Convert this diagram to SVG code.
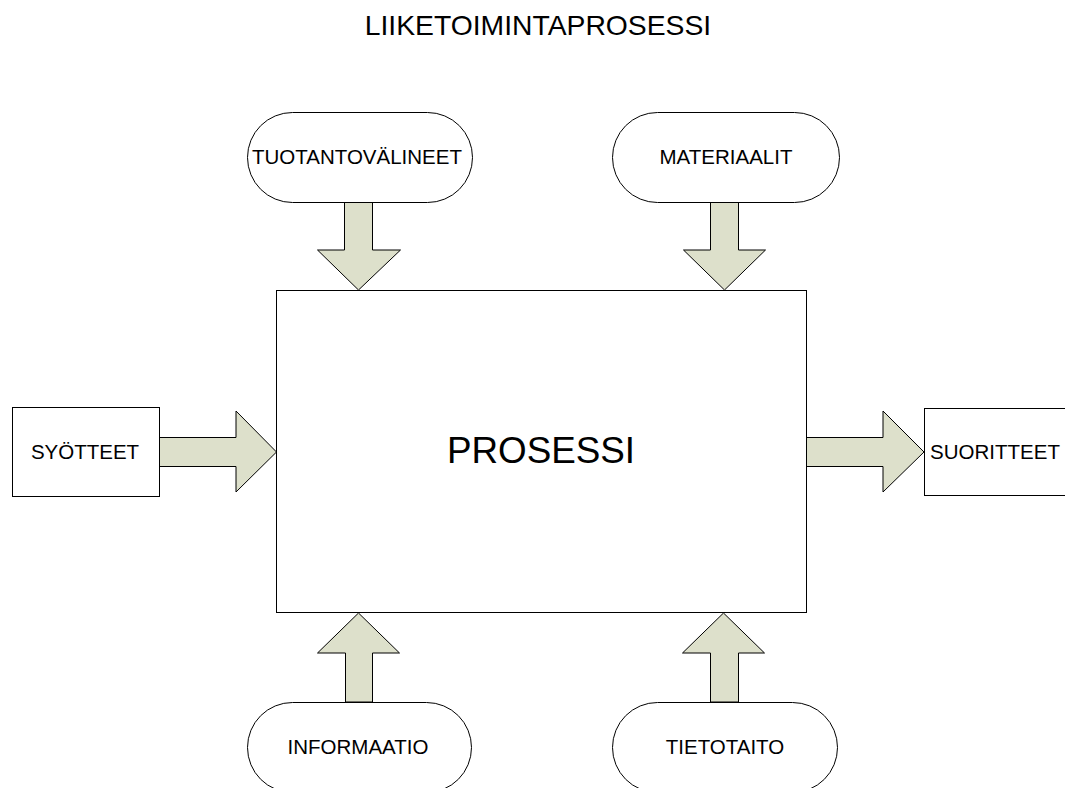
<svg xmlns="http://www.w3.org/2000/svg" width="1065" height="788" viewBox="0 0 1065 788">
<style>
.box{fill:#fff;stroke:#000;stroke-width:1}
.arr{fill:#dde0cb;stroke:#000;stroke-width:1;stroke-linejoin:miter}
text{font-family:"Liberation Sans",Arial,sans-serif;fill:#000;text-anchor:middle}
.lbl{font-size:20.5px}
</style>
<rect width="1065" height="788" fill="#fff"/>
<text id="title" x="538" y="35" style="font-size:28.3px">LIIKETOIMINTAPROSESSI</text>
<g id="connectors">
<polygon class="arr" points="344.5,202 372.5,202 372.5,250 400.5,250 358.5,290 317.5,250 344.5,250"/>
<polygon class="arr" points="710.5,202 738.5,202 738.5,250 765.5,250 724.5,290 683.5,250 710.5,250"/>
<polygon class="arr" points="159,437.5 236,437.5 236,411 276.5,452 236,492 236,466.5 159,466.5"/>
<polygon class="arr" points="806.5,437.5 883,437.5 883,411 924,452 883,492 883,466.5 806.5,466.5"/>
<polygon class="arr" points="345.5,702 372.5,702 372.5,653 399.5,653 358.5,613 317.5,653 345.5,653"/>
<polygon class="arr" points="710.5,702 738.5,702 738.5,653 764.5,653 723.5,613 682.5,653 710.5,653"/>
</g>
<g id="prosessi">
<rect class="box" x="276.5" y="290.5" width="530" height="322"/>
<text x="541" y="463" style="font-size:36.8px">PROSESSI</text>
</g>
<g id="tuotantovalineet">
<rect class="box" x="247.5" y="112.5" width="225" height="90" rx="45" ry="45"/>
<text class="lbl" x="357" y="164">TUOTANTOVÄLINEET</text>
</g>
<g id="materiaalit">
<rect class="box" x="612.5" y="112.5" width="227" height="90" rx="45" ry="45"/>
<text class="lbl" x="726" y="164">MATERIAALIT</text>
</g>
<g id="syotteet">
<rect class="box" x="12.5" y="407.5" width="147" height="89"/>
<text class="lbl" x="85" y="459">SYÖTTEET</text>
</g>
<g id="suoritteet">
<rect class="box" x="924.5" y="408.5" width="150" height="87"/>
<text class="lbl" x="995" y="459">SUORITTEET</text>
</g>
<g id="informaatio">
<rect class="box" x="247.5" y="702.5" width="224" height="90" rx="45" ry="45"/>
<text class="lbl" x="358" y="754">INFORMAATIO</text>
</g>
<g id="tietotaito">
<rect class="box" x="612.5" y="702.5" width="225" height="90" rx="45" ry="45"/>
<text class="lbl" x="725" y="754">TIETOTAITO</text>
</g>
</svg>
